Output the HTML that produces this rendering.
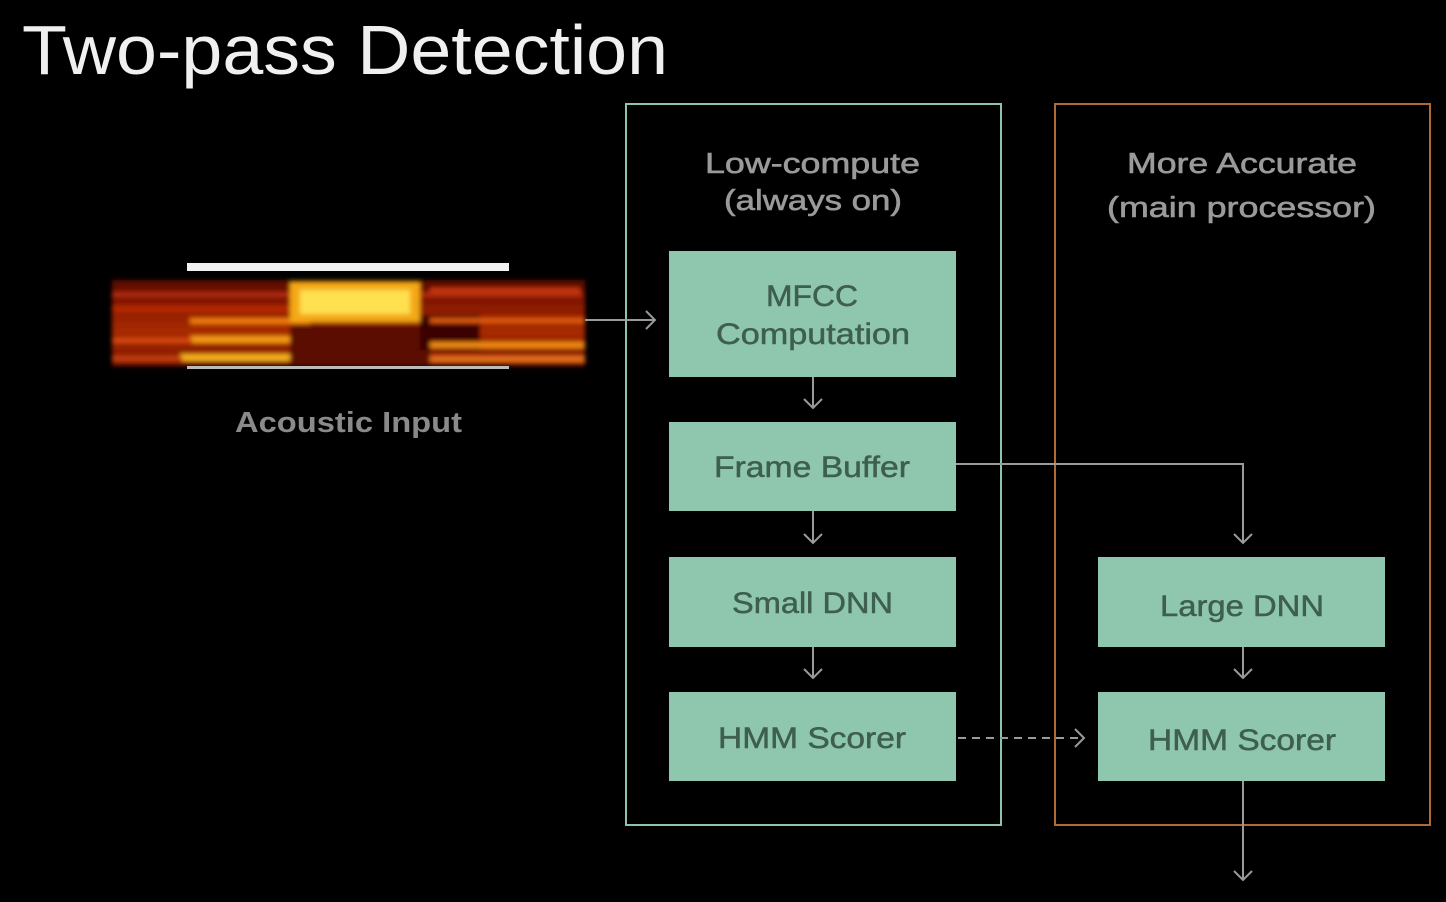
<!DOCTYPE html>
<html><head><meta charset="utf-8"><style>
html,body{margin:0;padding:0;background:#000;width:1446px;height:902px;overflow:hidden}
svg{display:block}
text{font-family:"Liberation Sans",sans-serif}
</style></head><body>
<svg width="1446" height="902" viewBox="0 0 1446 902" xmlns="http://www.w3.org/2000/svg">
<defs>
<filter id="bl" x="-5%" y="-20%" width="110%" height="140%"><feGaussianBlur stdDeviation="2.5"/></filter>
<linearGradient id="sg" x1="0" y1="0" x2="0" y2="1">
<stop offset="0" stop-color="#5a0a02"/><stop offset="0.3" stop-color="#8a1a04"/><stop offset="0.6" stop-color="#a82a06"/><stop offset="1" stop-color="#7a1604"/></linearGradient>
</defs>
<rect width="1446" height="902" fill="#000"/>
<text x="22" y="74" font-size="70" fill="#f0f0f0" textLength="646" lengthAdjust="spacingAndGlyphs">Two-pass Detection</text>

<g filter="url(#bl)">
<rect x="112" y="280" width="473" height="86" fill="url(#sg)"/>
<rect x="112" y="292" width="470" height="5" fill="#c8360a" opacity="0.7"/>
<rect x="112" y="306" width="180" height="6" fill="#c03008" opacity="0.8"/>
<rect x="190" y="318" width="120" height="6" fill="#f07a10"/>
<rect x="190" y="336" width="130" height="7" fill="#f49a18"/>
<rect x="112" y="338" width="80" height="5" fill="#d84a0c"/>
<rect x="180" y="354" width="130" height="7" fill="#f8b020"/>
<rect x="112" y="356" width="70" height="5" fill="#c8400a"/>
<rect x="290" y="282" width="130" height="40" fill="#f4a818"/>
<rect x="300" y="290" width="110" height="24" fill="#ffe050"/>
<rect x="290" y="325" width="140" height="40" fill="#5a0a02"/>
<rect x="420" y="315" width="60" height="35" fill="#3a0601"/>
<rect x="430" y="318" width="155" height="5" fill="#e05a0e"/>
<rect x="430" y="342" width="155" height="6" fill="#f28a16"/>
<rect x="430" y="356" width="155" height="6" fill="#e8701a"/>
<rect x="430" y="288" width="150" height="5" fill="#c8380a"/>
</g>
<rect x="187" y="263" width="322" height="8" fill="#f2f2f2"/>
<rect x="187" y="366" width="322" height="3" fill="#bbbbbb"/>
<text x="235" y="432" font-size="29" fill="#8a8a8a" font-weight="bold" textLength="227" lengthAdjust="spacingAndGlyphs">Acoustic Input</text>

<rect x="626" y="104" width="375" height="721" fill="none" stroke="#8cc4b0" stroke-width="2"/>
<rect x="1055" y="104" width="375" height="721" fill="none" stroke="#b06a36" stroke-width="2"/>
<g font-size="29" fill="#9a9a9a" stroke="#9a9a9a" stroke-width="0.6">
<text x="705" y="173" textLength="215" lengthAdjust="spacingAndGlyphs">Low-compute</text>
<text x="724" y="210" textLength="178" lengthAdjust="spacingAndGlyphs">(always on)</text>
<text x="1127" y="173" textLength="230" lengthAdjust="spacingAndGlyphs">More Accurate</text>
<text x="1107" y="217" textLength="269" lengthAdjust="spacingAndGlyphs">(main processor)</text>
</g>

<g fill="#8fc7ae">
<rect x="669" y="251" width="287" height="126"/>
<rect x="669" y="422" width="287" height="89"/>
<rect x="669" y="557" width="287" height="90"/>
<rect x="669" y="692" width="287" height="89"/>
<rect x="1098" y="557" width="287" height="90"/>
<rect x="1098" y="692" width="287" height="89"/>
</g>
<g font-size="30" fill="#3e5e50" stroke="#3e5e50" stroke-width="0.5">
<text x="766" y="306" textLength="92" lengthAdjust="spacingAndGlyphs">MFCC</text>
<text x="716" y="344" textLength="194" lengthAdjust="spacingAndGlyphs">Computation</text>
<text x="714" y="477" textLength="196" lengthAdjust="spacingAndGlyphs">Frame Buffer</text>
<text x="732" y="613" textLength="161" lengthAdjust="spacingAndGlyphs">Small DNN</text>
<text x="718" y="748" textLength="188" lengthAdjust="spacingAndGlyphs">HMM Scorer</text>
<text x="1160" y="616" textLength="164" lengthAdjust="spacingAndGlyphs">Large DNN</text>
<text x="1148" y="750" textLength="188" lengthAdjust="spacingAndGlyphs">HMM Scorer</text>
</g>

<g stroke="#9a9a9a" stroke-width="2" fill="none">
<path d="M585 320 H655 M646 311 L655 320 L646 329"/>
<path d="M813 377 V408 M804 399 L813 408 L822 399"/>
<path d="M813 511 V543 M804 534 L813 543 L822 534"/>
<path d="M813 647 V678 M804 669 L813 678 L822 669"/>
<path d="M956 464 H1243 V543 M1234 534 L1243 543 L1252 534"/>
<path d="M1243 647 V678 M1234 669 L1243 678 L1252 669"/>
<path d="M1243 781 V880 M1234 871 L1243 880 L1252 871"/>
<path d="M958 738 H1082" stroke-dasharray="8 6"/>
<path d="M1075 729 L1084 738 L1075 747"/>
</g>
</svg>
</body></html>
